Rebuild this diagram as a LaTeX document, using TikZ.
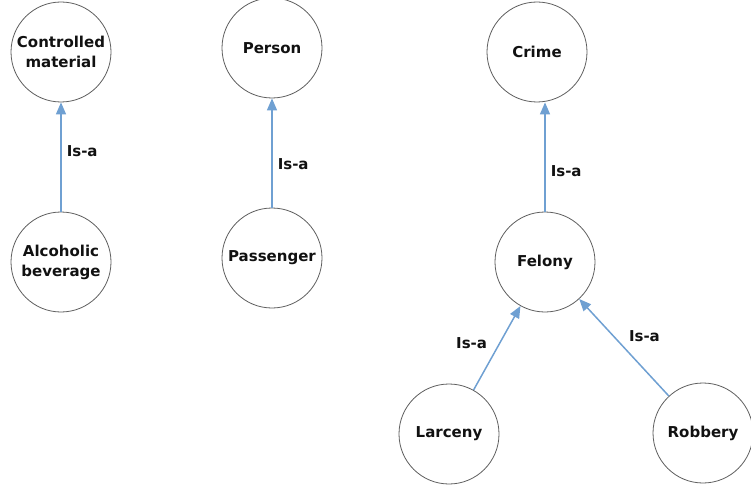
\documentclass[tikz,border=0pt]{standalone}
\usepackage{fontspec}
\setmainfont{DejaVu Sans}
\usepackage{tikz}
\usetikzlibrary{arrows.meta}
\definecolor{Rim}{HTML}{5E5E5E}
\definecolor{LinkBlue}{HTML}{6FA0D2}
\definecolor{Ink}{HTML}{111111}
\tikzset{
  concept/.style={circle, draw=Rim, line width=0.8pt, minimum size=100pt, inner sep=0pt,
    align=center, text=Ink, font=\bfseries\fontsize{15}{20}\selectfont},
  isa/.style={-{Triangle[length=12pt, width=10pt]}, line width=1.5pt, color=LinkBlue},
  tag/.style={text=Ink, inner sep=1pt, font=\bfseries\fontsize{15}{18}\selectfont},
}

\begin{document}
\begin{tikzpicture}[x=1pt, y=-1pt]
  \useasboundingbox (0,0) rectangle (751,484);

  % Controlled material
  \node[concept] (ctrl) at (61,52) {Controlled\\material};
  \node[concept] (alc) at (61,262) {Alcoholic\\beverage};
  \draw[isa] (alc) -- node[tag, pos=0.55, right=4pt] {Is-a} (ctrl);

  % Person
  \node[concept] (person) at (272,48) {Person};
  \node[concept] (pass) at (272,258) {Passenger};
  \draw[isa] (pass) -- node[tag, pos=0.4, right=4pt] {Is-a} (person);

  % Crime hierarchy
  \node[concept] (crime) at (537,52) {Crime};
  \node[concept] (fel) at (545,262) {Felony};
  \node[concept] (lar) at (449,434) {Larceny};
  \node[concept] (rob) at (703,433) {Robbery};
  \draw[isa] (fel.north) -- node[tag, pos=0.37, right=4pt] {Is-a} (fel.north |- crime.south);
  \draw[isa] (lar) -- node[tag, pos=0.56, left=11pt] {Is-a} (fel);
  \draw[isa] (rob) -- node[tag, pos=0.62, right=14pt] {Is-a} (fel);
\end{tikzpicture}
\end{document}
